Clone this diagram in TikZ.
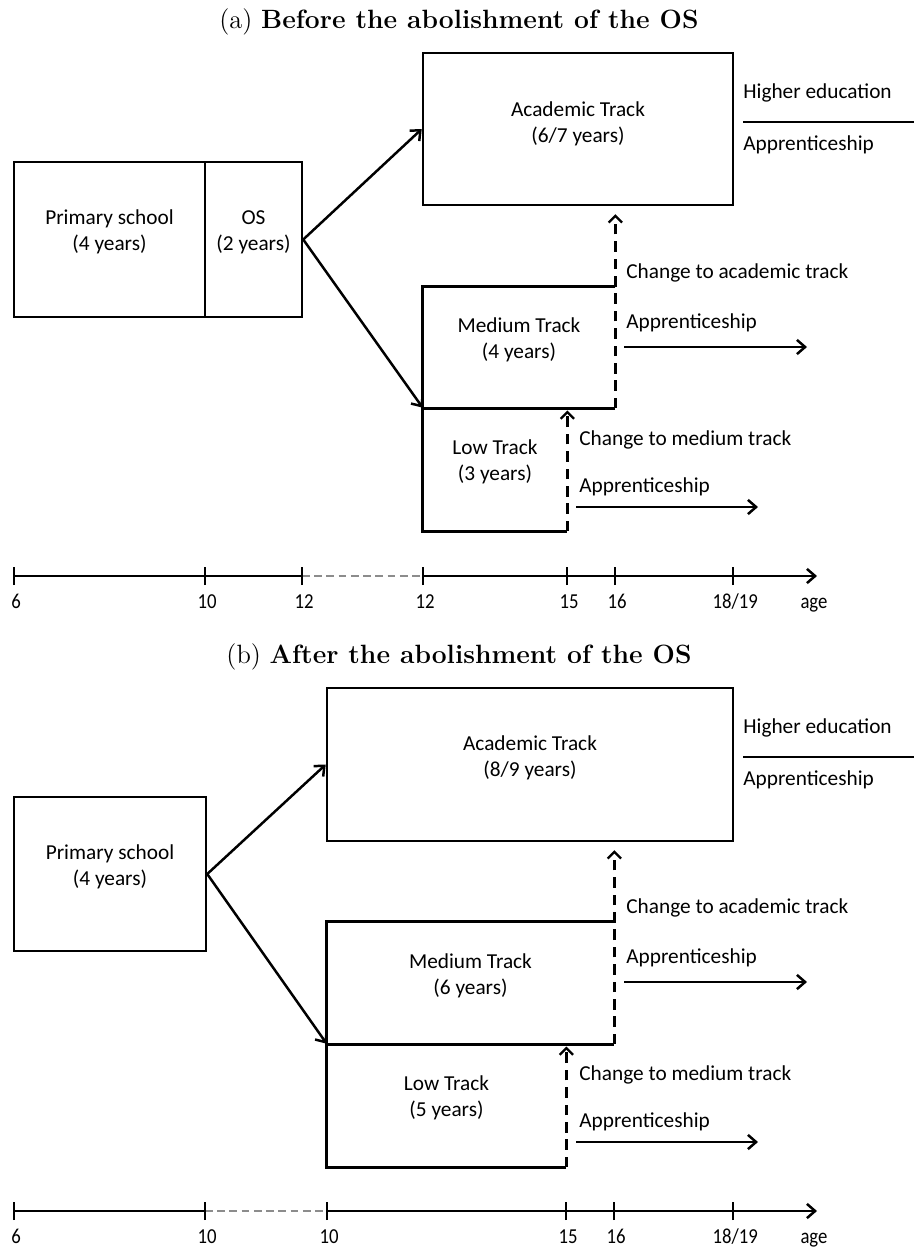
\documentclass[tikz,border=0pt]{standalone}
\usepackage{fontspec}
\usepackage{graphicx}
\newfontfamily\carl{Carlito}
\usetikzlibrary{arrows.meta,fit}
\newcommand\tlab[1]{\scalebox{0.88}[1]{#1}}
\begin{document}
\begin{tikzpicture}[x=0.5634pt,y=-0.5634pt,
  every node/.style={inner sep=0pt, font=\carl\fontsize{12}{14.5}\selectfont},
  box/.style={draw, line width=1.4pt, inner sep=0pt, align=center},
  area/.style={inner sep=0pt, align=center},
  edge/.style={line width=1.4pt},
  arr/.style={line width=1.4pt, -{Straight Barb[length=4.6pt,width=8pt,line width=1.4pt]}},
  dasharr/.style={line width=1.3pt, dash pattern=on 6pt off 3.8pt, -{Straight Barb[length=3.8pt,width=7.5pt,line width=1.3pt]}},
  tl/.style={line width=1.4pt},
  gdash/.style={line width=1.4pt, draw={rgb,255:red,140;green,140;blue,140}, dash pattern=on 4.3pt off 2.6pt},
  title/.style={font=\normalfont\fontsize{14.9}{18}\selectfont},
  lbl/.style={anchor=west},
  tick/.style={anchor=base, font=\carl\fontsize{12}{14}\selectfont},
]
\useasboundingbox (0,0) rectangle (915,1247);

% ================= (a) =================
\node[title] (ta) at (459,22) {(a) \textbf{Before the abolishment of the OS}};

\coordinate (pa1) at (14,162); \coordinate (pa2) at (205,317);
\node[box, fit=(pa1)(pa2)] (primA) {Primary school\\(4 years)};
\coordinate (oa1) at (205,162); \coordinate (oa2) at (302,317);
\node[box, fit=(oa1)(oa2)] (osA) {OS\\(2 years)};

\coordinate (aa1) at (423,53); \coordinate (aa2) at (733,205);
\node[box, fit=(aa1)(aa2)] (acadA) {};
\node[area] (acadAt) at (578,123.5) {Academic Track\\(6/7 years)};

\node[lbl] (heA) at (743,93) {Higher education};
\coordinate (hla) at (743,122); \coordinate (hlb) at (914,122);
\draw[edge] (hla) -- (hlb);
\node[lbl] (apA0) at (743,145) {Apprenticeship};

\coordinate (ma1) at (423,287); \coordinate (ma2) at (615,408);
\node[area, fit=(ma1)(ma2)] (medA) {Medium Track\\(4 years)};
\coordinate (la1) at (423,408); \coordinate (la2) at (567,531);
\node[area, fit=(la1)(la2)] (lowA) {Low Track\\(3 years)};
\draw[edge] (medA.north east) -- (medA.north west) -- (lowA.south west) -- (lowA.south east);
\draw[edge] (medA.south west) -- (medA.south east);

\draw[arr] (osA.east) -- (acadA.west);
\draw[arr] (osA.east) -- (lowA.north west);

\draw[dasharr, shorten >=4.5pt] (medA.south east) -- (medA.south east |- acadA.south);
\draw[dasharr, shorten >=1.6pt] (lowA.south east) -- (lowA.north east);

\node[lbl] (chA1) at (626,273) {Change to academic track};
\node[lbl] (apA1) at (626,323) {Apprenticeship};
\coordinate (am1) at (624,347); \coordinate (am2) at (807,347);
\draw[arr] (am1) -- (am2);
\node[lbl] (chA2) at (579,440) {Change to medium track};
\node[lbl] (apA2) at (579,487) {Apprenticeship};
\coordinate (al1) at (576,507); \coordinate (al2) at (758,507);
\draw[arr] (al1) -- (al2);

% timeline (a)
\foreach \n/\x in {0/14,1/205,2/302,3/423,4/567,5/615,6/733}
  \coordinate (ta\n) at (\x,576);
\coordinate (taend) at (817,576);
\draw[tl] (ta0) -- (ta2);
\draw[gdash] (ta2) -- (ta3);
\draw[arr] (ta3) -- (taend);
\foreach \n in {0,...,6}
  \draw[tl] ([yshift=-5.2pt]ta\n) -- ([yshift=5.2pt]ta\n);
\foreach \n/\t in {0/6,1/10,2/12,3/12,4/15,5/16,6/18\slash 19}
  \node[tick] (la\n) at ([xshift=1.2pt,yshift=-18.2pt]ta\n) {\tlab{\t}};
\node[tick] (ageA) at (814,608) {\tlab{age}};

% ================= (b) =================
\node[title] (tb) at (459,657) {(b) \textbf{After the abolishment of the OS}};

\coordinate (pb1) at (14,797); \coordinate (pb2) at (206,951);
\node[box, fit=(pb1)(pb2)] (primB) {Primary school\\(4 years)};

\coordinate (ab1) at (327,688); \coordinate (ab2) at (733,841);
\node[box, fit=(ab1)(ab2)] (acadB) {};
\node[area] (acadBt) at (530,757.5) {Academic Track\\(8/9 years)};

\node[lbl] (heB) at (743,728) {Higher education};
\coordinate (hlc) at (743,757); \coordinate (hld) at (914,757);
\draw[edge] (hlc) -- (hld);
\node[lbl] (apB0) at (743,780) {Apprenticeship};

\coordinate (mb1) at (327,922); \coordinate (mb2) at (614,1044);
\node[area, fit=(mb1)(mb2)] (medB) {Medium Track\\(6 years)};
\coordinate (lb1) at (327,1044); \coordinate (lb2) at (566,1167);
\node[area, fit=(lb1)(lb2)] (lowB) {Low Track\\(5 years)};
\draw[edge] (medB.north east) -- (medB.north west) -- (lowB.south west) -- (lowB.south east);
\draw[edge] (medB.south west) -- (medB.south east);

\draw[arr] (primB.east) -- (acadB.west);
\draw[arr] (primB.east) -- (lowB.north west);

\draw[dasharr, shorten >=4.5pt] (medB.south east) -- (medB.south east |- acadB.south);
\draw[dasharr, shorten >=1.6pt] (lowB.south east) -- (lowB.north east);

\node[lbl] (chB1) at (626,908) {Change to academic track};
\node[lbl] (apB1) at (626,958) {Apprenticeship};
\coordinate (bm1) at (624,982); \coordinate (bm2) at (807,982);
\draw[arr] (bm1) -- (bm2);
\node[lbl] (chB2) at (579,1075) {Change to medium track};
\node[lbl] (apB2) at (579,1122) {Apprenticeship};
\coordinate (bl1) at (576,1142); \coordinate (bl2) at (758,1142);
\draw[arr] (bl1) -- (bl2);

% timeline (b)
\foreach \n/\x in {0/14,1/205,2/327,3/566,4/614,5/733}
  \coordinate (tb\n) at (\x,1211);
\coordinate (tbend) at (817,1211);
\draw[tl] (tb0) -- (tb1);
\draw[gdash] (tb1) -- (tb2);
\draw[arr] (tb2) -- (tbend);
\foreach \n in {0,...,5}
  \draw[tl] ([yshift=-5.2pt]tb\n) -- ([yshift=5.2pt]tb\n);
\foreach \n/\t in {0/6,1/10,2/10,3/15,4/16,5/18\slash 19}
  \node[tick] (lb\n) at ([xshift=1.2pt,yshift=-18.2pt]tb\n) {\tlab{\t}};
\node[tick] (ageB) at (814,1243) {\tlab{age}};
\end{tikzpicture}
\end{document}
